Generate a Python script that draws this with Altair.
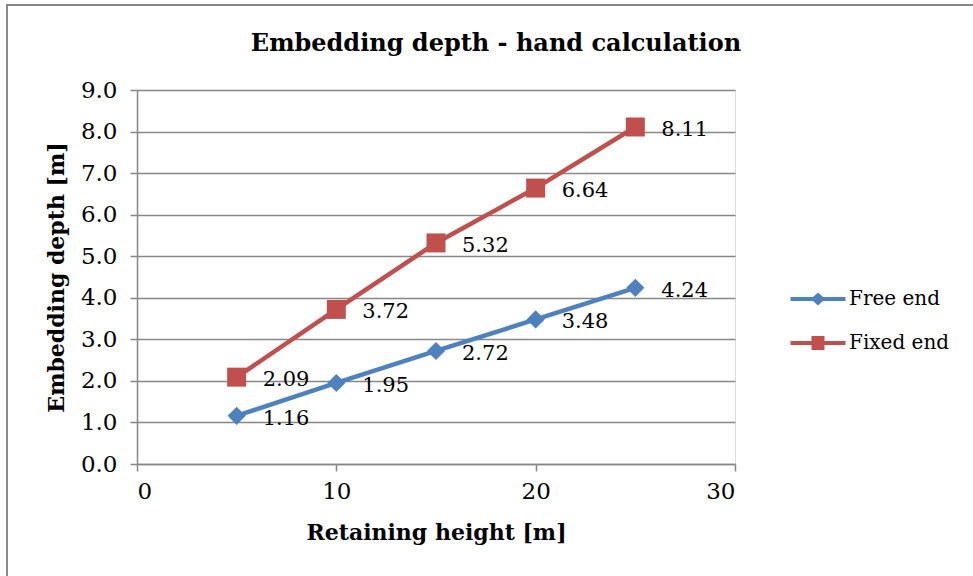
import altair as alt
import pandas as pd

heights = [5, 10, 15, 20, 25]
free_end = [1.16, 1.95, 2.72, 3.48, 4.24]
fixed_end = [2.09, 3.72, 5.32, 6.64, 8.11]
series_names = ["Free end", "Fixed end"]
colors = ["#4F81BD", "#C0504D"]
y_ticks = [0, 1, 2, 3, 4, 5, 6, 7, 8, 9]
x_ticks = [0, 10, 20, 30]

rows = []
for h, v in zip(heights, free_end):
    rows.append({"h": h, "d": v, "s": "Free end"})
for h, v in zip(heights, fixed_end):
    rows.append({"h": h, "d": v, "s": "Fixed end"})
df = pd.DataFrame(rows)

FONT = "DejaVu Serif"
GRAY = "#878787"

# legend symbols: line with marker in the middle (units = sqrt(size)/2 px)
diamond_line = ("M-5.5,-0.4 L-1.0,-0.4 L0,-1.3 L1.0,-0.4 L5.5,-0.4 L5.5,0.4 "
                "L1.0,0.4 L0,1.3 L-1.0,0.4 L-5.5,0.4 Z")
square_line = ("M-5.5,-0.4 L-1.3,-0.4 L-1.3,-1.4 L1.3,-1.4 L1.3,-0.4 L5.5,-0.4 "
               "L5.5,0.4 L1.3,0.4 L1.3,1.4 L-1.3,1.4 L-1.3,0.4 L-5.5,0.4 Z")

x_enc = alt.X("h:Q", scale=alt.Scale(domain=[0, 30], nice=False),
              axis=alt.Axis(values=x_ticks, title="Retaining height [m]", grid=False,
                            domainColor=GRAY, domainWidth=1.5, tickColor=GRAY,
                            tickWidth=1.5, tickSize=7, labelFontSize=23,
                            labelFont=FONT, labelColor="#000", labelPadding=9,
                            titleFont=FONT, titleFontSize=22, titleFontWeight="bold",
                            titleColor="#000", titlePadding=19))
y_enc = alt.Y("d:Q", scale=alt.Scale(domain=[0, 9], nice=False),
              axis=alt.Axis(values=y_ticks, format=".1f", title="Embedding depth [m]",
                            grid=True, gridColor=GRAY, gridWidth=1.5,
                            domainColor=GRAY, domainWidth=1.5, tickColor=GRAY,
                            tickWidth=1.5, tickSize=7, labelFontSize=23,
                            labelFont=FONT, labelColor="#000", labelPadding=13,
                            titleFont=FONT, titleFontSize=22, titleFontWeight="bold",
                            titleColor="#000", titlePadding=12))
color_enc = alt.Color("s:N", scale=alt.Scale(domain=series_names, range=colors), legend=None)

base = alt.Chart(df)

lines = base.mark_line(strokeWidth=4.5).encode(x=x_enc, y=y_enc, color=color_enc)

points = base.mark_point(filled=True, opacity=1).encode(
    x="h:Q", y="d:Q", color=color_enc,
    shape=alt.Shape("s:N", scale=alt.Scale(domain=series_names, range=["diamond", "square"]),
                    legend=None),
    size=alt.Size("s:N", scale=alt.Scale(domain=series_names, range=[330, 360]), legend=None),
)

labels = base.mark_text(align="left", baseline="middle", dx=26, dy=3,
                        font=FONT, fontSize=21, color="#000").encode(
    x="h:Q", y="d:Q", text=alt.Text("d:Q", format=".2f"))

leg = dict(title=None, orient="none", legendX=671, legendY=199,
           symbolOpacity=1, symbolSize=100, symbolStrokeWidth=0,
           labelFont=FONT, labelFontSize=20, labelColor="#000",
           labelOffset=21, rowPadding=24)

legend_layer = base.mark_point(filled=True, opacity=0, size=100).encode(
    x="h:Q", y="d:Q",
    color=alt.Color("s:N", scale=alt.Scale(domain=series_names, range=colors),
                    legend=alt.Legend(**leg)),
    shape=alt.Shape("s:N", scale=alt.Scale(domain=series_names, range=[diamond_line, square_line]),
                    legend=alt.Legend(**leg)),
)

frame_left = alt.Chart(df).mark_rule(color="#888888", strokeWidth=2).encode(
    x=alt.value(-130), y=alt.value(-85), y2=alt.value(600))
frame_top = alt.Chart(df).mark_rule(color="#888888", strokeWidth=2).encode(
    x=alt.value(-131), x2=alt.value(900), y=alt.value(-85))

chart = alt.layer(frame_left, frame_top, lines, points, labels, legend_layer).resolve_scale(
    shape="independent", size="independent", color="independent"
).properties(
    width=598, height=374,
    title=alt.TitleParams("Embedding depth - hand calculation", font=FONT, fontSize=24,
                          fontWeight="bold", color="#000", dx=60, offset=0, dy=52),
    autosize=alt.AutoSizeParams(type="none"),
    padding={"left": 137, "top": 90, "right": 238, "bottom": 112},
).configure_view(stroke=None).configure(background="white")

chart.save("out.html", embed_options={"renderer": "svg", "actions": False})
